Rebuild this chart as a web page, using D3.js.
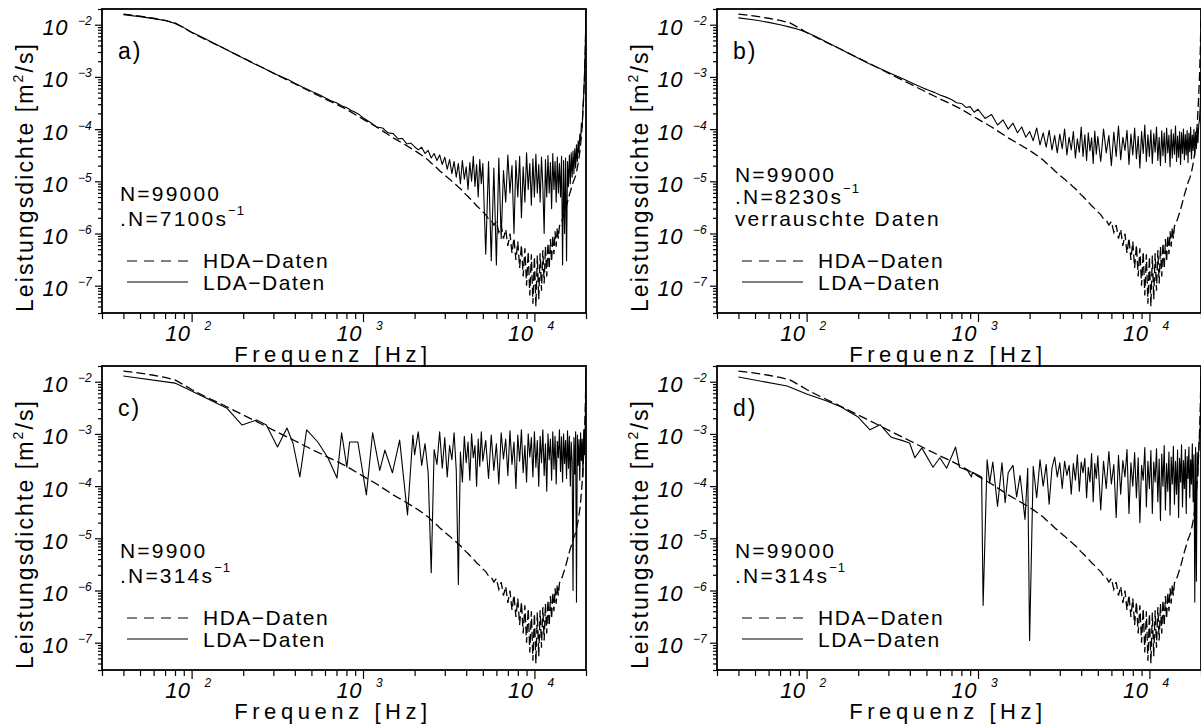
<!DOCTYPE html>
<html><head><meta charset="utf-8">
<script src="https://cdn.jsdelivr.net/npm/d3@7"></script>
<style>
body{margin:0;background:#fff;}
svg{display:block;background:#fff;}
text{font-family:"Liberation Sans",Arial,Helvetica,sans-serif;fill:#000;}
</style></head><body>
<svg id="chart" width="1201" height="724"></svg>
<script>
// ---------------- DATA ----------------
const freqDomain = [30, 20000];
const psdDomain = [3e-8, 2e-2];
const xMajorTicks = [100, 1000, 10000];
const xMajorExp = ["2", "3", "4"];
const xMinorTicks = [30,40,50,60,70,80,90,200,300,400,500,600,700,800,900,2000,3000,4000,5000,6000,7000,8000,9000,20000];
const yMajorTicks = [1e-2, 1e-3, 1e-4, 1e-5, 1e-6, 1e-7];
const yMajorExp = ["\u22122", "\u22123", "\u22124", "\u22125", "\u22126", "\u22127"];
const yMinorTicks = [3e-8,4e-8,5e-8,6e-8,7e-8,8e-8,9e-8,2e-7,3e-7,4e-7,5e-7,6e-7,7e-7,8e-7,9e-7,2e-6,3e-6,4e-6,5e-6,6e-6,7e-6,8e-6,9e-6,
  2e-5,3e-5,4e-5,5e-5,6e-5,7e-5,8e-5,9e-5,2e-4,3e-4,4e-4,5e-4,6e-4,7e-4,8e-4,9e-4,2e-3,3e-3,4e-3,5e-3,6e-3,7e-3,8e-3,9e-3,2e-2];

const panelLabels = ["a)", "b)", "c)", "d)"];
const sampleCounts = ["N=99000", "N=99000", "N=9900", "N=99000"];
const dataRates = [".N=7100s", ".N=8230s", ".N=314s", ".N=314s"];
const extraNotes = [null, "verrauschte Daten", null, null];
const legendLabels = ["HDA\u2212Daten", "LDA\u2212Daten"];
const xTitle = "Frequenz [Hz]";

// shared high-frequency bin grid (Hz)
const freqHigh = [2000,2100,2200,2300,2400,2500,2600,2700,2800,2900,
  3000,3100,3200,3300,3400,3500,3600,3700,3800,3900,
  4000,4100,4200,4300,4400,4500,4600,4700,4800,4900,
  5000,5200,5400,5600,5800,6000,6200,6400,6600,6800,
  7000,7200,7400,7600,7800,8000,8200,8400,8600,8800,
  9000,9200,9400,9600,9800,10000,10200,10400,10600,10800,
  11000,11200,11400,11600,11800,12000,12200,12400,12600,12800,
  13000,13200,13400,13600,13800,14000,14200,14400,14600,14800,
  15000,15200,15400,15600,15800,16000,16200,16400,16600,16800,
  17000,17200,17400,17600,17800,18000,18200,18400,18600,18800,
  19000,19200,19400,19600,19800,20000];

// HDA reference spectrum (dashed)
const hdaLowFreq = [40,50,60,70,80,90,100,120,150,200,250,300,400,500,600,700,800,1000,1200,1500,1800];
const hdaLowPsd = [0.016,0.0146,0.0133,0.0121,0.0108,0.0087,0.0071,0.0052,0.0037,0.0023,0.0016,0.00118,0.00074,0.00051,0.00038,0.0003,0.00024,0.000155,0.00011,0.000068,0.000048];
const hdaHighPsd = [3.9e-5,3.5e-5,3.15e-5,2.85e-5,2.55e-5,2.25e-5,2.0e-5,1.8e-5,1.6e-5,1.45e-5,
  1.3e-5,1.2e-5,1.1e-5,1.0e-5,9.2e-6,8.5e-6,7.8e-6,7.2e-6,6.6e-6,6.0e-6,
  5.5e-6,5.1e-6,4.7e-6,4.3e-6,4.0e-6,3.7e-6,3.4e-6,3.2e-6,3.0e-6,2.8e-6,
  2.6e-6,2.3e-6,1.9e-6,1.8e-6,1.45e-6,1.7e-6,1.05e-6,1.45e-6,8e-7,1.2e-6,
  5.8e-7,1e-6,4.2e-7,8.2e-7,3.1e-7,7e-7,2.2e-7,6e-7,1.5e-7,5.2e-7,
  1e-7,4.5e-7,6.5e-8,4e-7,4.5e-8,3.6e-7,4e-8,3.8e-7,5.5e-8,4.2e-7,
  8e-8,4.8e-7,1.1e-7,5.6e-7,1.5e-7,6.6e-7,2.1e-7,7.8e-7,2.9e-7,9.2e-7,
  4e-7,1.1e-6,5.6e-7,1.3e-6,8e-7,1.4e-6,1.5e-6,1.7e-6,1.9e-6,2.2e-6,
  2.5e-6,2.9e-6,3.4e-6,4e-6,4.7e-6,5.5e-6,6.3e-6,7.2e-6,8.3e-6,9.5e-6,
  1.05e-5,1.15e-5,1.3e-5,1.5e-5,1.8e-5,2.2e-5,2.8e-5,3.6e-5,5e-5,7.5e-5,
  1.2e-4,2.2e-4,4.5e-4,1e-3,3e-3,1.5e-2];

// LDA spectra (solid), low-frequency part + values on freqHigh
const lowFreqAB = [40,50,60,70,80,90,100,110,120,135,150,170,190,210,230,250,280,310,340,370,400,440,480,520,560,600,650,700,750,800,850,900,950,1000,1100,1200,1300,1400,1500,1600,1700,1800,1900];
const ldaALowPsd = [0.0155,0.0143,0.0131,0.012,0.0106,0.0088,0.0072,0.0062,0.0054,0.0044,
  0.0037,0.003,0.0025,0.0021,0.0018,0.0016,0.00133,0.00113,0.00099,0.00087,
  0.00076,0.00065,0.00057,0.0005,0.00045,0.0004,0.00035,0.00032,0.00028,0.00026,
  0.00023,0.00021,0.00019,0.000165,0.000135,0.00011,0.000105,0.000085,0.000082,0.000065,
  0.000066,0.000052,0.000054];
const ldaAHighPsd = [4.6e-5,4.0e-5,4.5e-5,3.4e-5,3.9e-5,2.8e-5,3.4e-5,2.5e-5,3.2e-5,2.1e-5,
  2.9e-5,1.7e-5,2.6e-5,1.4e-5,2.4e-5,1.2e-5,2.2e-5,9e-6,2.5e-5,1.1e-5,
  1.9e-5,7e-6,2.3e-5,1e-5,3e-5,8e-6,2.1e-5,5e-6,2.6e-5,9e-6,
  2.2e-5,4e-7,2.4e-5,3e-7,1.8e-5,2.5e-7,2.8e-5,8e-7,1.6e-5,4e-6,
  3.2e-5,6e-6,2e-5,1e-6,2.5e-5,5e-6,3e-5,2e-6,1.9e-5,4e-6,
  3.5e-5,7e-6,2.2e-5,3.5e-6,2.7e-5,5e-6,3.3e-5,6e-6,2.1e-5,4e-6,
  2.9e-5,8e-6,1e-6,2.6e-5,5e-6,3.1e-5,6e-6,2.3e-5,3e-6,3.4e-5,
  7e-6,2.4e-5,4e-6,2.9e-5,6e-6,2.2e-5,5e-6,3e-5,2.5e-7,2.5e-5,
  1e-6,2.8e-5,3e-7,2.4e-5,8e-6,3.2e-5,9e-6,3.5e-5,1.2e-5,3.8e-5,
  1.4e-5,4.2e-5,1.8e-5,5e-5,2.4e-5,6e-5,3.5e-5,8e-5,6e-5,1.3e-4,
  1.1e-4,2.5e-4,4.5e-4,1.1e-3,3.5e-3,2e-2];

const ldaBLowPsd = [0.0135,0.0123,0.0111,0.01,0.009,0.0081,0.0071,0.0062,0.0054,0.0044,
  0.0037,0.003,0.0025,0.0021,0.0018,0.0016,0.00135,0.00116,0.00102,0.0009,
  0.0008,0.00069,0.00061,0.00055,0.0005,0.00045,0.00041,0.00037,0.00032,0.00031,
  0.00026,0.00027,0.00021,0.00024,0.00016,0.00019,0.00012,0.00015,0.0001,0.00013,
  0.000085,0.00011,0.00007];
const ldaBHighPsd = [9e-5,6e-5,1.05e-4,5e-5,8.5e-5,4.5e-5,9.5e-5,4e-5,7.5e-5,3.5e-5,
  8e-5,4.2e-5,1e-4,3.2e-5,7e-5,4e-5,9e-5,2.8e-5,6.5e-5,3.6e-5,
  1.1e-4,3e-5,7.8e-5,2.5e-5,8.5e-5,3.8e-5,6.8e-5,2.2e-5,9.2e-5,3.3e-5,
  7.2e-5,2.4e-5,1e-4,3.5e-5,7.5e-5,2e-5,8.8e-5,3e-5,1.15e-4,2.6e-5,
  7e-5,3.9e-5,9.5e-5,2.1e-5,8e-5,3.2e-5,1.05e-4,2.7e-5,7.3e-5,1.8e-5,
  9e-5,3.4e-5,1.2e-4,2.4e-5,7.8e-5,3e-5,9.6e-5,2.2e-5,8.2e-5,3.6e-5,
  1.1e-4,2.5e-5,7e-5,2e-5,9.3e-5,3.1e-5,8.5e-5,2.3e-5,1.05e-4,3.5e-5,
  7.6e-5,1.9e-5,9.8e-5,2.8e-5,8.1e-5,3.3e-5,1.15e-4,2.4e-5,7.4e-5,2.9e-5,
  9e-5,2.1e-5,8.6e-5,3.4e-5,1e-4,2.6e-5,7.9e-5,3.2e-5,9.4e-5,2.3e-5,
  8.3e-5,3.7e-5,1.1e-4,2.7e-5,7.7e-5,3.9e-5,9.9e-5,3.1e-5,8.8e-5,4.2e-5,
  1.05e-4,5.5e-5,1.2e-4,1.5e-4,3e-4,1.2e-3];

const ldaCLowFreq = [40,80,111,161,197,240,273,317,360,390,428,469,545,624,705,750,805,835,933,1046,1138,1252,1342,1484,1636,1818,1954];
const ldaCLowPsd = [0.0129,0.0094,0.0056,0.0031,0.00148,0.00185,0.00148,0.00056,0.0013,0.00067,
  0.00015,0.0012,0.0007,0.00035,0.000143,0.00105,0.00023,0.0007,0.0007,0.000068,
  0.00105,0.0002,0.00049,0.00018,0.00076,0.000028,0.00095];
const ldaCHighPsd = [4e-4,1.1e-3,2.5e-4,6.5e-4,1.8e-4,2.2e-6,5e-4,2.6e-4,1.1e-3,2.2e-4,
  8.5e-4,1.5e-4,6e-4,3.2e-4,1.05e-3,2e-4,1.3e-6,4.5e-4,1.2e-4,9e-4,
  2.8e-4,7e-4,1.3e-4,1e-3,3.5e-4,6e-4,1e-4,8e-4,2.4e-4,1.1e-3,
  3e-4,7.5e-4,1.4e-4,9.5e-4,2e-4,6.5e-4,1.1e-4,1.05e-3,3.3e-4,8e-4,
  1.6e-4,1.15e-3,2.6e-4,7e-4,9e-5,9.5e-4,3e-4,1.2e-3,1.8e-4,6e-4,
  1.2e-4,1e-3,3.6e-4,8.5e-4,1.5e-4,1.1e-3,2.3e-4,7.5e-4,1e-4,9e-4,
  2.8e-4,1.2e-3,1.6e-4,6.5e-4,8e-5,1e-3,3.2e-4,8e-4,1.3e-4,1.1e-3,
  2.1e-4,9e-4,1.1e-4,7.2e-4,3.5e-4,1.2e-3,1.9e-4,8.8e-4,1.2e-4,1e-3,
  2.7e-4,7.5e-4,1.4e-4,1.15e-3,2.2e-4,9e-4,1e-4,7e-4,3e-4,1e-6,
  8.5e-4,1.7e-4,1.1e-3,6e-7,9.5e-4,2.5e-4,7.8e-4,1.3e-4,1.05e-3,3.1e-4,
  8e-4,1.5e-4,1.2e-3,4e-4,1.5e-3,1.8e-2];

const ldaDLowFreq = [40,77,100,130,158,200,234,268,312,355,399,428,470,546,599,656,740,780,868,915,928,1050,1071,1130,1170,1220,1300,1380,1440,1500,1600,1680,1760,1880,1950];
const ldaDLowPsd = [0.0123,0.0083,0.0058,0.0043,0.0033,0.0021,0.0012,0.0015,0.00086,0.00076,
  0.00067,0.00035,0.00054,0.00023,0.00035,0.00022,0.00056,0.00023,0.0002,0.00015,
  0.000185,0.00015,5.2e-7,0.00032,0.000115,0.00029,4.1e-5,0.00028,4.8e-5,0.00018,
  0.00025,6.2e-5,0.00016,2.3e-5,0.00022];
const ldaDHighPsd = [1.1e-7,2.4e-4,6e-5,3.2e-4,1e-4,2.6e-4,4.5e-5,2.2e-4,3.6e-4,1.5e-4,
  2.8e-4,9e-5,3e-4,1.6e-4,2.5e-4,7e-5,2.7e-4,1.3e-4,4e-4,8e-5,
  2.9e-4,1.8e-4,3.4e-4,6e-5,2.3e-4,1.2e-4,4.2e-4,5e-5,2.7e-4,1.4e-4,
  3.8e-4,3.5e-5,3e-4,9e-5,4.6e-4,1.1e-4,2.6e-4,2.5e-5,3.9e-4,7e-5,
  3.1e-4,1.5e-4,5e-4,3e-5,2.8e-4,1e-4,4.4e-4,6e-5,3.5e-4,2e-5,
  2.5e-4,1.3e-4,5.5e-4,4e-5,3e-4,9e-5,4.8e-4,3e-5,2.9e-4,1.2e-4,
  5.2e-4,5e-5,3.3e-4,2.2e-5,4.1e-4,1e-4,6e-4,3.5e-5,2.7e-4,8e-5,
  4.5e-4,2.8e-5,3.6e-4,1.1e-4,5.8e-4,4.5e-5,3e-4,7e-5,4.9e-4,2.5e-5,
  3.4e-4,1.2e-4,6.2e-4,4e-5,3.1e-4,9e-5,5e-4,3e-5,3.7e-4,1.4e-4,
  5.6e-4,6e-5,3.2e-4,1.1e-4,6.5e-4,5e-5,4e-4,6e-7,5.5e-4,1.5e-6,
  4.4e-4,1.6e-4,5e-4,9e-4,1.5e-3,1.2e-2];

// ---------------- LAYOUT ----------------
const W = 484, H = 304;
const panelOrigins = [[102, 9], [717, 9], [102, 366], [717, 366]];

const svg = d3.select("#chart");
svg.append("rect").attr("width", 1201).attr("height", 724).attr("fill", "#fff");
svg.append("defs").append("clipPath").attr("id", "plotClip")
  .append("rect").attr("x", 0).attr("y", 0).attr("width", W).attr("height", H);

const x = d3.scaleLog().domain(freqDomain).range([0, W]);
const y = d3.scaleLog().domain(psdDomain).range([H, 0]);
const line = d3.line().x(d => x(d[0])).y(d => y(d[1]));

const pairs = (fs, vs) => fs.map((f, i) => [f, vs[i]]);
const hda = pairs(hdaLowFreq, hdaLowPsd).concat(pairs(freqHigh, hdaHighPsd));
const ldaSeries = [
  pairs(lowFreqAB, ldaALowPsd).concat(pairs(freqHigh, ldaAHighPsd)),
  pairs(lowFreqAB, ldaBLowPsd).concat(pairs(freqHigh, ldaBHighPsd)),
  pairs(ldaCLowFreq, ldaCLowPsd).concat(pairs(freqHigh, ldaCHighPsd)),
  pairs(ldaDLowFreq, ldaDLowPsd).concat(pairs(freqHigh, ldaDHighPsd))
];

function fitWidth(t, w) {
  const n = t.text().length;
  const len = t.node().getComputedTextLength();
  t.style("letter-spacing", ((w - len) / Math.max(1, n - 1)) + "px");
}

panelOrigins.forEach((o, k) => {
  const g = svg.append("g").attr("transform", `translate(${o[0]},${o[1]})`);

  // ticks
  const tickStyle = sel => {
    sel.select(".domain").remove();
    sel.selectAll("line").attr("stroke", "#000").attr("stroke-width", 1.2);
  };
  g.append("g").attr("transform", `translate(0,${H})`)
    .call(d3.axisBottom(x).tickValues(xMinorTicks).tickSize(6).tickFormat("")).call(tickStyle);
  g.append("g").attr("transform", `translate(0,${H})`)
    .call(d3.axisBottom(x).tickValues(xMajorTicks).tickSize(9).tickFormat("")).call(tickStyle);
  g.append("g").call(d3.axisLeft(y).tickValues(yMinorTicks).tickSize(4).tickFormat("")).call(tickStyle);
  g.append("g").call(d3.axisLeft(y).tickValues(yMajorTicks).tickSize(7).tickFormat("")).call(tickStyle);

  // tick labels
  yMajorTicks.forEach((t, i) => {
    const ty = y(t);
    g.append("text").attr("x", -34).attr("y", ty + 10.5).attr("text-anchor", "end")
      .style("font-style", "italic").style("font-size", "22px").style("letter-spacing", "0.5px").text("10");
    g.append("text").attr("x", -24).attr("y", ty + 0.5)
      .style("font-style", "italic").style("font-size", "12px").text(yMajorExp[i]);
  });
  xMajorTicks.forEach((t, i) => {
    const tx = x(t);
    g.append("text").attr("x", tx - 1).attr("y", H + 28).attr("text-anchor", "end")
      .style("font-style", "italic").style("font-size", "22px").style("letter-spacing", "0.5px").text("10");
    g.append("text").attr("x", tx + 13).attr("y", H + 17)
      .style("font-style", "italic").style("font-size", "12px").text(xMajorExp[i]);
  });

  // axis titles
  const xt = g.append("text").attr("x", 231).attr("y", H + 49).attr("text-anchor", "middle")
    .style("font-size", "22px").text(xTitle);
  fitWidth(xt, 193);
  const yt = g.append("text").attr("transform", "translate(-69,168) rotate(-90)")
    .attr("text-anchor", "middle").style("font-size", "23px");
  yt.append("tspan").text("Leistungsdichte [m");
  yt.append("tspan").attr("dy", -10).style("font-size", "14px").text("2");
  yt.append("tspan").attr("dy", 10).text("/s]");
  fitWidth(yt, 268);

  // curves
  const plot = g.append("g").attr("clip-path", "url(#plotClip)");
  plot.append("path").datum(ldaSeries[k]).attr("d", line)
    .attr("fill", "none").attr("stroke", "#000").attr("stroke-width", 1.1).attr("stroke-linejoin", "round");
  plot.append("path").datum(hda).attr("d", line)
    .attr("fill", "none").attr("stroke", "#000").attr("stroke-width", 1.3).attr("stroke-dasharray", "9,4");

  // frame
  g.append("rect").attr("width", W).attr("height", H).attr("fill", "none")
    .attr("stroke", "#000").attr("stroke-width", 1.8);

  // panel label
  g.append("text").attr("x", 16).attr("y", 50).style("font-size", "23px")
    .style("letter-spacing", "2px").text(panelLabels[k]);

  // notes
  const hasExtra = extraNotes[k] !== null;
  const base = hasExtra ? [173, 195, 217] : [192, 217];
  g.append("text").attr("x", 18).attr("y", base[0]).style("font-size", "21px")
    .style("letter-spacing", "2.2px").text(sampleCounts[k]);
  const rt = g.append("text").attr("x", 18).attr("y", base[1]).style("font-size", "21px")
    .style("letter-spacing", "2.2px");
  rt.append("tspan").text(dataRates[k]);
  rt.append("tspan").attr("dy", -11).style("font-size", "13px").style("letter-spacing", "1px").text("\u22121");
  if (hasExtra) {
    g.append("text").attr("x", 18).attr("y", base[2]).style("font-size", "21px")
      .style("letter-spacing", "2px").text(extraNotes[k]);
  }

  // legend
  g.append("line").attr("x1", 25).attr("x2", 86).attr("y1", 252).attr("y2", 252)
    .attr("stroke", "#000").attr("stroke-width", 1.2).attr("stroke-dasharray", "10,7");
  g.append("line").attr("x1", 25).attr("x2", 86).attr("y1", 273).attr("y2", 273)
    .attr("stroke", "#000").attr("stroke-width", 1.2);
  g.append("text").attr("x", 101).attr("y", 259).style("font-size", "21px")
    .style("letter-spacing", "1.5px").text(legendLabels[0]);
  g.append("text").attr("x", 101).attr("y", 281).style("font-size", "21px")
    .style("letter-spacing", "1.5px").text(legendLabels[1]);
});
</script></body></html>
